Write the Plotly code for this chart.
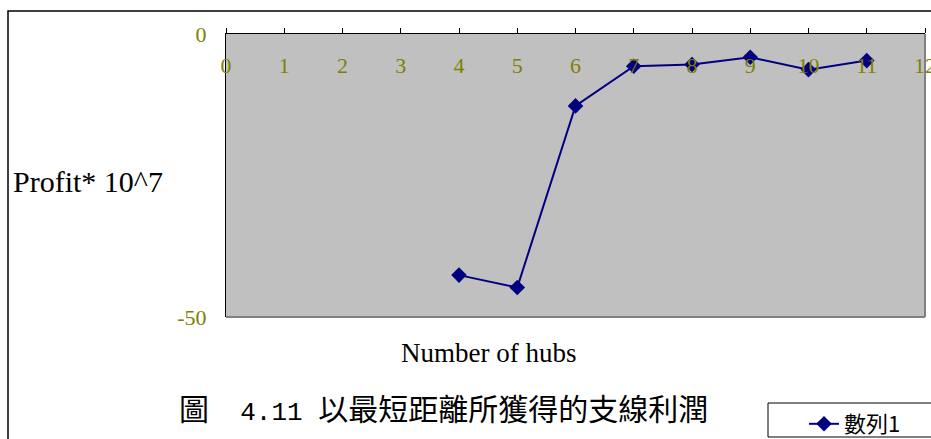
import plotly.graph_objects as go

# Data
hubs = [4, 5, 6, 7, 8, 9, 10, 11]
profit = [-42.6, -44.8, -12.7, -5.7, -5.4, -4.1, -6.3, -4.7]
x_ticks = list(range(0, 13))
y_ticks = [-50, 0]
y_tick_text = ["-50", "0"]
series_name = "數列1"
x_title = "Number of hubs"
y_title = "Profit* 10^7"
cap_label = "圖"
cap_num = "4.11"
cap_text = "以最短距離所獲得的支線利潤"

W, H = 931, 439
L, R, T, B = 226, 6, 34, 122
pw, ph = W - L - R, H - T - B

def px(x):
    return (x - L) / pw

def py(y):
    return (H - B - y) / ph

serif = "Liberation Serif, Times New Roman, serif"
cjk = "Noto Sans CJK TC, serif"
mono = "Liberation Mono, monospace"
olive = "#808000"
navy = "#000080"

caption = (f"{cap_label}<span style='font-family:{mono};font-size:26px'>"
           f"\u00a0\u00a0{cap_num}\u00a0</span>{cap_text}")

fig = go.Figure()
fig.add_trace(go.Scatter(
    x=hubs, y=profit, mode="lines+markers", name=series_name,
    line=dict(color=navy, width=2),
    marker=dict(symbol="diamond", size=12, color=navy),
    xaxis="x", yaxis="y",
))
# invisible trace on secondary x-axis so its tick labels render
fig.add_trace(go.Scatter(x=[0, 12], y=[None, None], xaxis="x2", yaxis="y",
                         showlegend=False, hoverinfo="skip"))

fig.update_layout(
    width=W, height=H,
    margin=dict(l=L, r=R, t=T, b=B, pad=0, autoexpand=False),
    paper_bgcolor="white",
    plot_bgcolor="#C0C0C0",
    showlegend=True,
    xaxis=dict(
        range=[0, 12], side="top", showline=True, linecolor="black", linewidth=1,
        ticks="outside", ticklen=5, tickcolor="black", tickvals=x_ticks,
        showticklabels=False, showgrid=False, zeroline=False, mirror=False,
    ),
    xaxis2=dict(
        range=[0, 12], overlaying="x", anchor="free", position=0.945, side="bottom",
        showline=False, ticks="", tickvals=x_ticks, ticktext=[str(v) for v in x_ticks],
        tickfont=dict(family=serif, size=22, color=olive),
        ticklabeloverflow="allow",
        showgrid=False, zeroline=False,
    ),
    yaxis=dict(
        range=[-50, 0], showline=True, linecolor="black", linewidth=1,
        tickvals=y_ticks, ticktext=y_tick_text,
        ticks="outside", ticklen=14, tickcolor="rgba(0,0,0,0)",
        tickfont=dict(family=serif, size=22, color=olive),
        showgrid=False, zeroline=False,
    ),
    legend=dict(
        x=px(804), y=py(403), xanchor="left", yanchor="top",
        bgcolor="rgba(0,0,0,0)", borderwidth=0,
        font=dict(family=cjk, size=22, color="black"),
    ),
    annotations=[
        dict(text=y_title, xref="paper", yref="paper", x=px(11), y=py(181),
             xanchor="left", yanchor="middle", showarrow=False,
             font=dict(family=serif, size=30, color="black")),
        dict(text=x_title, xref="paper", yref="paper", x=px(488), y=py(353),
             xanchor="center", yanchor="middle", showarrow=False,
             font=dict(family=serif, size=27, color="black")),
        dict(text=caption, xref="paper", yref="paper", x=px(177), y=py(407),
             xanchor="left", yanchor="middle", showarrow=False,
             font=dict(family=cjk, size=30, color="black")),
    ],
    shapes=[
        # plot area shadow border (right and bottom)
        dict(type="line", xref="paper", yref="paper", x0=1, x1=1, y0=0, y1=1,
             line=dict(color="#808080", width=2)),
        dict(type="line", xref="paper", yref="paper", x0=0, x1=1, y0=0, y1=0,
             line=dict(color="#808080", width=2)),
        # outer chart frame
        dict(type="rect", xref="paper", yref="paper",
             x0=px(8), x1=px(940), y0=py(450), y1=py(11),
             line=dict(color="black", width=1.5), layer="below"),
        # legend box
        dict(type="rect", xref="paper", yref="paper",
             x0=px(768), x1=px(945), y0=py(437), y1=py(403),
             fillcolor="white", line=dict(color="black", width=1), layer="below"),
    ],
)

fig.write_html("out.html")
